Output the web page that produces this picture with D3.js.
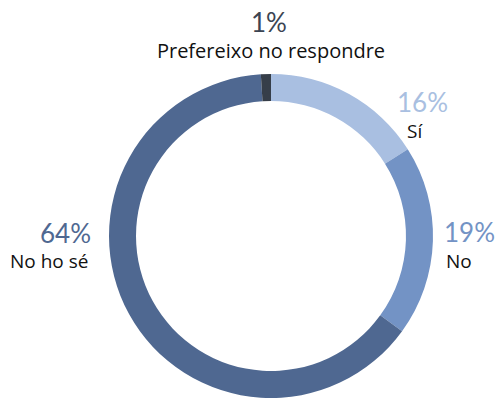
<!DOCTYPE html>
<html>
<head>
<meta charset="utf-8">
<script src="https://cdn.jsdelivr.net/npm/d3@7"></script>
<style>
  body { margin: 0; background: #fff; }
  svg { display: block; }
</style>
</head>
<body>
<div id="chart"></div>
<script>
// answer categories, in drawing order clockwise from 12 o'clock
const categories = ["Sí", "No", "No ho sé", "Prefereixo no respondre"];
const values = [16, 19, 64, 1];
const valueLabels = ["16%", "19%", "64%", "1%"];
const colors = ["#a9bfe1", "#7393c5", "#4f6891", "#363e49"];
const pctColors = ["#a9bfe1", "#7393c5", "#4f6891", "#3b4452"];

// where each label block sits (percent line, then name line)
const labelLayout = [
  { x: 397, y: 112, nx: 407, ny: 138, anchor: "start" },
  { x: 444, y: 242, nx: 446, ny: 268, anchor: "start" },
  { x: 40, y: 243, nx: 10, ny: 268, anchor: "start" },
  { x: 269, y: 32, nx: 271, ny: 58, anchor: "middle" }
];

const width = 502, height = 401;
const cx = 271, cy = 236;
const outerR = 162, innerR = 135;

const svg = d3.select('#chart')
  .append('svg')
  .attr('width', width)
  .attr('height', height);

const pie = d3.pie().sort(null).value(d => d)(values);
const arc = d3.arc().innerRadius(innerR).outerRadius(outerR);

svg.append('g')
  .attr('transform', `translate(${cx},${cy})`)
  .selectAll('path')
  .data(pie)
  .enter()
  .append('path')
  .attr('d', arc)
  .attr('fill', (d, i) => colors[i]);

// labels
const lab = svg.selectAll('.lab')
  .data(categories)
  .enter()
  .append('g')
  .attr('class', 'lab');

lab.append('text')
  .attr('x', (d, i) => labelLayout[i].x)
  .attr('y', (d, i) => labelLayout[i].y)
  .attr('text-anchor', (d, i) => labelLayout[i].anchor)
  .attr('font-family', 'Lato, sans-serif')
  .attr('font-weight', 400)
  .attr('font-size', 26)
  .attr('fill', (d, i) => pctColors[i])
  .text((d, i) => valueLabels[i]);

lab.append('text')
  .attr('x', (d, i) => labelLayout[i].nx)
  .attr('y', (d, i) => labelLayout[i].ny)
  .attr('text-anchor', (d, i) => labelLayout[i].anchor)
  .attr('font-family', '"Open Sans", sans-serif')
  .attr('font-size', (d, i) => i === 3 ? 20 : 19)
  .attr('fill', '#111')
  .text(d => d);
</script>
</body>
</html>
